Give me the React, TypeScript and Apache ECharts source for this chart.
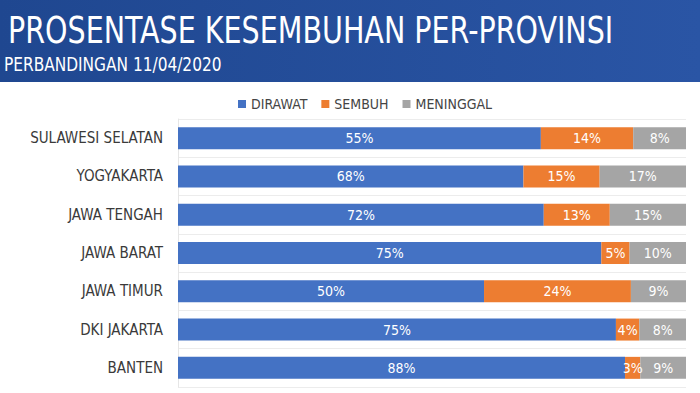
import React, { useEffect, useRef } from "react";
import * as echarts from "echarts";

const provinces = [
  "SULAWESI SELATAN",
  "YOGYAKARTA",
  "JAWA TENGAH",
  "JAWA BARAT",
  "JAWA TIMUR",
  "DKI JAKARTA",
  "BANTEN",
];
const dirawat = [55, 68, 72, 75, 50, 75, 88];
const sembuh = [14, 15, 13, 5, 24, 4, 3];
const meninggal = [8, 17, 15, 10, 9, 8, 9];
const seriesNames = ["DIRAWAT", "SEMBUH", "MENINGGAL"];
const colors = ["#4472c4", "#ed7d31", "#a5a5a5"];
const titleText = "PROSENTASE KESEMBUHAN PER-PROVINSI";
const subtitleText = "PERBANDINGAN 11/04/2020";

const FONT = "'DejaVu Sans Condensed', 'Noto Sans', sans-serif";

export default function App() {
  const ref = useRef<HTMLDivElement>(null);
  useEffect(() => {
    document.body.style.margin = "0";
    const chart = echarts.init(ref.current!, null, { renderer: "svg" });
    const raw = [dirawat, sembuh, meninggal];
    const totals = provinces.map((_, i) => dirawat[i] + sembuh[i] + meninggal[i]);
    const series = raw.map((arr, s) => ({
      name: seriesNames[s],
      type: "bar",
      stack: "total",
      barWidth: 22,
      itemStyle: { color: colors[s] },
      data: arr.map((v, i) => (v / totals[i]) * 100),
      label: {
        show: true,
        position: "inside",
        color: "#ffffff",
        fontFamily: FONT,
        fontSize: 14,
        formatter: (p: any) => raw[s][p.dataIndex] + "%",
      },
    }));
    chart.setOption({
      animation: false,
      backgroundColor: "#ffffff",
      graphic: [
        {
          type: "rect",
          left: 0,
          top: 0,
          shape: { width: 700, height: 82 },
          style: {
            fill: new echarts.graphic.LinearGradient(0, 0, 1, 0, [
              { offset: 0, color: "#1f4790" },
              { offset: 1, color: "#2a55a5" },
            ]),
          },
          z: -1,
        },
        {
          type: "text",
          x: 8,
          y: 12,
          scaleX: 0.858,
          style: {
            text: titleText,
            fill: "#ffffff",
            font: `37px ${FONT}`,
          },
        },
        {
          type: "text",
          x: 4,
          y: 55,
          scaleX: 0.9,
          style: {
            text: subtitleText,
            fill: "#ffffff",
            font: `19px ${FONT}`,
          },
        },
      ],
      legend: {
        top: 92,
        left: 233,
        itemWidth: 8,
        itemHeight: 8,
        itemGap: 14,
        icon: "rect",
        textStyle: { color: "#444444", fontSize: 14, fontFamily: FONT },
        data: seriesNames,
      },
      grid: { left: 178, right: 14, top: 119, bottom: 6, containLabel: false },
      xAxis: {
        type: "value",
        min: 0,
        max: 100,
        show: false,
      },
      yAxis: {
        type: "category",
        data: provinces,
        inverse: true,
        axisLine: { show: true, lineStyle: { color: "#e6e6e6" } },
        axisTick: { show: false },
        splitLine: { show: true, lineStyle: { color: "#ececec" } },
        axisLabel: {
          color: "#3a3a3a",
          fontSize: 15,
          fontFamily: FONT,
          margin: 15,
        },
      },
      series,
    });
    return () => chart.dispose();
  }, []);
  return <div ref={ref} style={{ width: 700, height: 393 }} />;
}
